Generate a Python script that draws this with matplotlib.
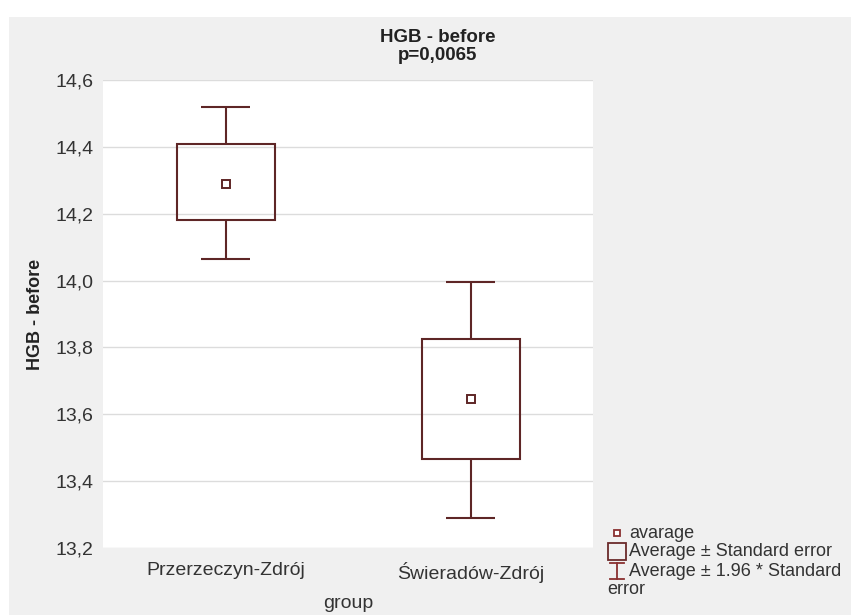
"""HGB before treatment: mean, +/- SE box and +/- 1.96*SE whiskers per group."""

import matplotlib.pyplot as plt
from matplotlib.patches import Rectangle

groups = ["Przerzeczyn-Zdrój", "Świeradów-Zdrój"]
means = [14.29, 13.645]
se_low = [14.18, 13.465]
se_high = [14.41, 13.825]
ci_low = [14.065, 13.29]
ci_high = [14.52, 13.995]
yticks = [13.2, 13.4, 13.6, 13.8, 14.0, 14.2, 14.4, 14.6]

COLOR = "#5e2626"
TXT = "#333333"
plt.rcParams["font.family"] = ["Liberation Sans", "DejaVu Sans"]

W, H = 851, 615
fig = plt.figure(figsize=(W / 100, H / 100), dpi=100)
fig.patch.set_facecolor("white")
# grey panel behind everything
fig.patches.append(Rectangle((9 / W, 0), 1, 1 - 17 / H, transform=fig.transFigure,
                             facecolor="#f0f0f0", edgecolor="none", zorder=-10))

ax = fig.add_axes([103 / W, 67 / H, 490 / W, 468 / H])
ax.set_facecolor("white")
x = list(range(len(groups)))

ax.bar(x, [h - l for h, l in zip(se_high, se_low)], bottom=se_low, width=0.4,
       facecolor="none", edgecolor=COLOR, linewidth=1.5, zorder=3)
ax.vlines(x, se_high, ci_high, color=COLOR, linewidth=1.5, zorder=3)
ax.vlines(x, ci_low, se_low, color=COLOR, linewidth=1.5, zorder=3)
for xi, lo, hi in zip(x, ci_low, ci_high):
    ax.hlines([lo, hi], xi - 0.1, xi + 0.1, color=COLOR, linewidth=1.5, zorder=3)
ax.plot(x, means, "s", markersize=6, markerfacecolor="white",
        markeredgecolor=COLOR, markeredgewidth=1.4, zorder=4)

ax.set_xlim(-0.5, 1.5)
ax.set_ylim(13.2, 14.6)
ax.set_yticks(yticks)
ax.set_yticklabels([f"{v:.1f}".replace(".", ",") for v in yticks])
ax.set_xticks(x)
ax.set_xticklabels(groups)
ax.tick_params(length=0, labelsize=14, labelcolor=TXT)
ax.tick_params(axis="y", pad=7)
ax.tick_params(axis="x", pad=10)
ax.grid(axis="y", color="#dcdcdc", linewidth=1)
ax.set_axisbelow(True)
for s in ax.spines.values():
    s.set_visible(False)

fig.text(438 / W, 1 - 37 / H, "HGB - before", ha="center", va="center",
         fontsize=13.5, fontweight="bold", color="#222222")
fig.text(438 / W, 1 - 55 / H, "p=0,0065", ha="center", va="center",
         fontsize=13.5, fontweight="bold", color="#222222")
fig.text(36 / W, 1 - 314 / H, "HGB - before", rotation=90, ha="center", va="center",
         fontsize=13, fontweight="bold", color="#222222")
fig.text(348 / W, 1 - 603 / H, "group", ha="center", va="center",
         fontsize=14, color=TXT)

# legend drawn in pixel coordinates
lax = fig.add_axes([0, 0, 1, 1])
lax.set_xlim(0, W)
lax.set_ylim(H, 0)
lax.axis("off")
lax.patch.set_alpha(0)
lax.plot([617], [533], "s", markersize=5, markerfacecolor="white",
         markeredgecolor="#8a3030", markeredgewidth=1.3)
lax.add_patch(Rectangle((608, 543), 18, 17, facecolor="none", edgecolor="#6a2a2a", linewidth=1.3))
lax.plot([617, 617], [563, 579], color="#8a3030", linewidth=1.3)
lax.plot([610, 624], [563, 563], color="#8a3030", linewidth=1.3)
lax.plot([610, 624], [579, 579], color="#8a3030", linewidth=1.3)
for ty, label in [(533, "avarage"), (552, "Average ± Standard error"),
                  (571, "Average ± 1.96 * Standard")]:
    lax.text(629, ty, label, ha="left", va="center", fontsize=13, color=TXT)
lax.text(607, 590, "error", ha="left", va="center", fontsize=13, color=TXT)

fig.savefig("out.png", dpi=100)
